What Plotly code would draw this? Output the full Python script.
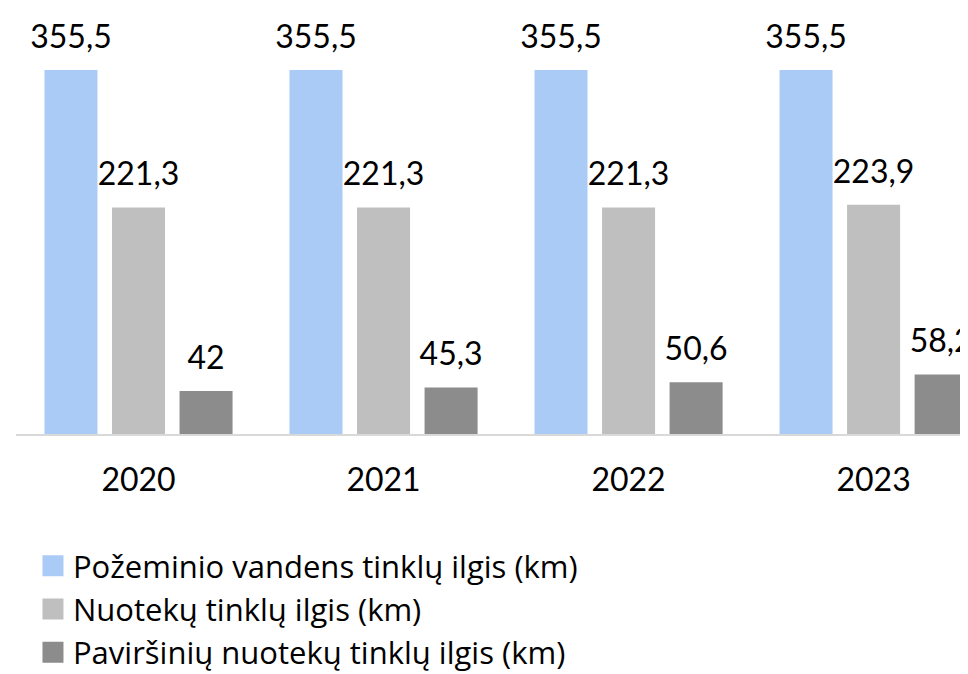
import plotly.graph_objects as go

years = ["2020", "2021", "2022", "2023"]
series_names = [
    "Požeminio vandens tinklų ilgis (km)",
    "Nuotekų tinklų ilgis (km)",
    "Paviršinių nuotekų tinklų ilgis (km)",
]
pozeminio = [355.5, 355.5, 355.5, 355.5]
nuoteku = [221.3, 221.3, 221.3, 223.9]
pavirsiniu = [42, 45.3, 50.6, 58.2]
colors = ["#ABCBF7", "#BFBFBF", "#8C8C8C"]

FONT = "Lato"
LEGEND_FONT = "Open Sans"
values = [pozeminio, nuoteku, pavirsiniu]


def fmt(v):
    return ("{:g}".format(v)).replace(".", ",")


fig = go.Figure()
for i, (name, vals, col) in enumerate(zip(series_names, values, colors)):
    fig.add_trace(go.Bar(
        x=years, y=vals, name=name, marker=dict(color=col, line=dict(width=0)),
        offsetgroup=str(i), alignmentgroup="a", showlegend=False, hoverinfo="skip",
    ))
for i, (name, vals, col) in enumerate(zip(series_names, values, colors)):
    fig.add_trace(go.Scatter(
        x=years, y=vals, mode="markers+text", text=[fmt(v) for v in vals],
        textposition="top center", textfont=dict(family=FONT, size=32, color="#000000"),
        marker=dict(size=21, opacity=0, color=col), offsetgroup=str(i), alignmentgroup="a",
        showlegend=False, hoverinfo="skip", cliponaxis=False,
    ))
for name, col in zip(series_names, colors):
    fig.add_trace(go.Scatter(
        x=[None], y=[None], mode="markers", name=name,
        marker=dict(symbol="square", size=16, color=col, line=dict(color=col, width=5)),
        hoverinfo="skip",
    ))

fig.update_layout(
    width=968, height=674,
    margin=dict(l=8, r=0, t=16, b=248, autoexpand=False),
    paper_bgcolor="white", plot_bgcolor="white",
    barmode="group", scattermode="group",
    bargap=0.173, bargroupgap=0.215,
    font=dict(family=FONT, size=32, color="#000000"),
    xaxis=dict(
        type="category", range=[-0.5, 3.418], showline=True, linecolor="#D9D9D9", linewidth=2,
        showgrid=False, ticks="outside", ticklen=17, tickcolor="rgba(0,0,0,0)",
        tickfont=dict(family=FONT, size=32, color="#000000"), fixedrange=True,
        automargin=False,
    ),
    yaxis=dict(range=[0, 400.4], visible=False, fixedrange=True, automargin=False),
    legend=dict(
        orientation="v", xref="container", x=0.0258, xanchor="left",
        yref="container", y=1 - 531 / 674, yanchor="top",
        font=dict(family=LEGEND_FONT, size=31, color="#000000"), tracegroupgap=0,
        bgcolor="rgba(0,0,0,0)",
    ),
    showlegend=True,
)

fig.write_html("out.html")
